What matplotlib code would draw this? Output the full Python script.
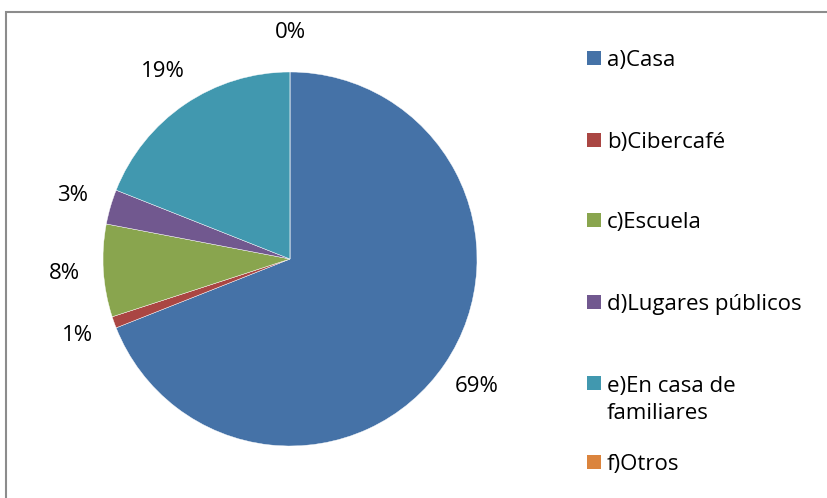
import matplotlib.pyplot as plt
from matplotlib.patches import Rectangle

plt.rcParams['font.family'] = ['Open Sans', 'DejaVu Sans']

categories = ['a)Casa', 'b)Cibercafé', 'c)Escuela', 'd)Lugares públicos',
              'e)En casa de\nfamiliares', 'f)Otros']
values = [69, 1, 8, 3, 19, 0]
colors = ['#4572A7', '#AA4643', '#89A54E', '#71588F', '#4198AF', '#DB843D']

W, H = 828, 498
fig = plt.figure(figsize=(W / 100, H / 100), dpi=100)

# gray frame (right/bottom edges fall outside the image)
fig.patches.append(Rectangle((6 / W, -0.02), 1.1, 1 - 12 / H + 0.02,
                             transform=fig.transFigure, fill=False,
                             edgecolor='#8c8c8c', linewidth=1.5))

# pie centred at (290, 259) px, radius 187 px
cx, cy, r = 290, 259, 187
ax = fig.add_axes([(cx - r) / W, (H - cy - r) / H, 2 * r / W, 2 * r / H])
wedges, texts, autotexts = ax.pie(values, colors=colors, startangle=90,
                                  counterclock=False, autopct='%1.0f%%',
                                  pctdistance=1.21,
                                  wedgeprops=dict(linewidth=0.3, edgecolor='white'),
                                  textprops=dict(fontsize=16, color='black'))
ax.set_aspect('auto')
ax.set_xlim(-1, 1)
ax.set_ylim(-1, 1)

# legend drawn by hand to mimic the wrapped Excel layout
legend_y = [58, 140, 220, 302, 383, 462]
line_step = 28
for label, color, y in zip(categories, colors, legend_y):
    fig.patches.append(Rectangle((587 / W, (H - y - 7) / H), 14 / W, 14 / H,
                                 transform=fig.transFigure, facecolor=color,
                                 edgecolor='none'))
    # baseline of the last line, so the first line sits next to the square
    base = y + 8 + label.count('\n') * line_step
    fig.text(607 / W, (H - base) / H, label, fontsize=16, va='baseline',
             ha='left', linespacing=1.39)

fig.savefig('out.png', dpi=100)
